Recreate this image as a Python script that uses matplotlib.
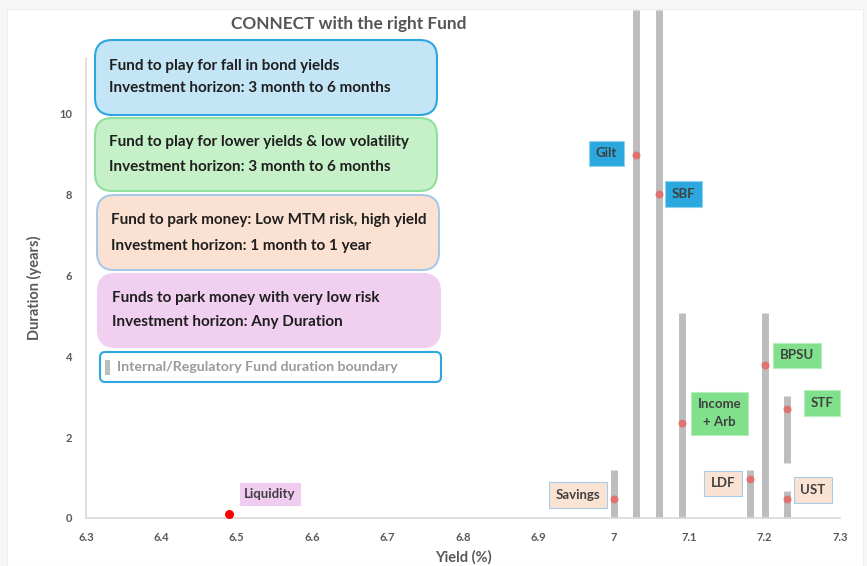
import matplotlib
matplotlib.use("Agg")
import matplotlib.pyplot as plt
from matplotlib.patches import FancyBboxPatch, Rectangle

plt.rcParams["font.family"] = ["Lato", "DejaVu Sans"]

# fund data: yield (%), duration (years), regulatory duration boundary
fund_names = ["Savings", "Gilt", "SBF", "Income\n+ Arb", "LDF", "BPSU", "STF", "UST"]
fund_yield = [7.00, 7.03, 7.06, 7.09, 7.18, 7.20, 7.23, 7.23]
fund_duration = [0.46, 8.97, 8.0, 2.34, 0.96, 3.77, 2.69, 0.46]
bound_low = [0, 0, 0, 0, 0, 0, 1.35, 0]
bound_high = [1.19, 12.55, 12.55, 5.06, 1.19, 5.06, 3.01, 0.66]
fund_group = ["park", "fall", "fall", "lower", "park", "lower", "lower", "park"]

liq_name = "Liquidity"
liq_yield = 6.49
liq_duration = 0.1

# label anchor positions (data coords)
label_x = [6.953, 6.990, 7.092, 7.140, 7.145, 7.243, 7.276, 7.264]
label_y = [0.57, 9.01, 8.0, 2.59, 0.86, 4.02, 2.84, 0.69]
liq_label_xy = (6.544, 0.59)

group_style = {
    "fall": dict(fc="#2aa8df", ec="#8fd3f0"),
    "lower": dict(fc="#80e08b", ec="#b5eebb"),
    "park": dict(fc="#fbe3d4", ec="#a9ccec"),
    "very_low": dict(fc="#f0cdf0", ec="#f0cdf0"),
}

legend_lines = [
    ("Fund to play for fall in bond yields", "Investment horizon: 3 month to 6 months"),
    ("Fund to play for lower yields & low volatility", "Investment horizon: 3 month to 6 months"),
    ("Fund to park money: Low MTM risk, high yield", "Investment horizon: 1 month to 1 year"),
    ("Funds to park money with very low risk", "Investment horizon: Any Duration"),
]
legend_fc = ["#c4e5f5", "#c5f0c8", "#fbe1d1", "#f1cff0"]
legend_ec = ["#2ea6e0", "#90e09b", "#a8c8e8", "#f1cff0"]
# box extents in pixels (x0, y0_top, x1, y1_bottom) and text line rows
legend_px = [(95, 40, 437, 115), (95, 118, 437, 191), (97, 195, 439, 270), (98, 274, 440, 347)]
legend_rows = [(66, 88), (142, 167), (220, 246), (298, 322)]

W, H = 867, 566
fig = plt.figure(figsize=(W / 100, H / 100), dpi=100, facecolor="#f7f7f7")
fig.patches.append(Rectangle((7 / W, 0), 856 / W, 1 - 9 / H, transform=fig.transFigure,
                             fc="white", ec="#eeeeee", lw=0.8, zorder=-2))

ax = fig.add_axes([86 / W, 1 - 518 / H, (840 - 86) / W, (518 - 58) / H])
ax.set_zorder(0)
ax.set_facecolor("none")
ax.set_xlim(6.3, 7.3)
ax.set_ylim(0, 11.36)
ax.set_xticks([6.3, 6.4, 6.5, 6.6, 6.7, 6.8, 6.9, 7.0, 7.1, 7.2, 7.3])
ax.set_xticklabels(["6.3", "6.4", "6.5", "6.6", "6.7", "6.8", "6.9", "7", "7.1", "7.2", "7.3"])
ax.set_yticks([0, 2, 4, 6, 8, 10])
for s in ["top", "right"]:
    ax.spines[s].set_visible(False)
for s in ["left", "bottom"]:
    ax.spines[s].set_color("#d9d9d9")
    ax.spines[s].set_linewidth(1.2)
ax.tick_params(length=0, labelsize=8, labelcolor="#595959", pad=10)
for lab in ax.get_xticklabels() + ax.get_yticklabels():
    lab.set_fontweight("bold")

ax.vlines(fund_yield, bound_low, bound_high, colors="#bdbdbd", linewidth=5, zorder=2, clip_on=False)
ax.scatter(fund_yield, fund_duration, s=22, color="#e07272", zorder=3, clip_on=False)
ax.scatter([liq_yield], [liq_duration], s=30, color="#ff0000", zorder=3, clip_on=False)

for name, lx, ly, g in zip(fund_names, label_x, label_y, fund_group):
    st = group_style[g]
    ax.text(lx, ly, name, ha="center", va="center", fontsize=9.5, fontweight="bold",
            color="#404040", linespacing=1.6, zorder=4,
            bbox=dict(boxstyle="square,pad=0.5", fc=st["fc"], ec=st["ec"], lw=0.8))
st = group_style["very_low"]
ax.text(liq_label_xy[0], liq_label_xy[1], liq_name, ha="center", va="center", fontsize=9.5,
        fontweight="bold", color="#404040", zorder=4,
        bbox=dict(boxstyle="square,pad=0.35", fc=st["fc"], ec=st["ec"], lw=0.8))

ax.set_xlabel("Yield (%)", fontsize=10.5, fontweight="bold", color="#595959", labelpad=5)
ax.set_ylabel("Duration (years)", fontsize=10.5, fontweight="bold", color="#595959", labelpad=12)

fig.text(349 / W, 1 - 24 / H, "CONNECT with the right Fund", ha="center", va="center",
         fontsize=12.4, fontweight="bold", color="#555555")

# legend boxes
for (l1, l2), fc, ec, (x0, y0, x1, y1), (r1, r2) in zip(legend_lines, legend_fc, legend_ec,
                                                          legend_px, legend_rows):
    box = FancyBboxPatch((x0 / W, 1 - y1 / H), (x1 - x0) / W, (y1 - y0) / H,
                         boxstyle="round,pad=0,rounding_size=0.02", transform=fig.transFigure,
                         fc=fc, ec=ec, lw=1.5, mutation_aspect=W / H, zorder=2)
    fig.patches.append(box)
    fig.text((x0 + 14) / W, 1 - r1 / H, l1, ha="left", va="center",
             fontsize=11, fontweight="bold", color="#1f1f1f", zorder=3)
    fig.text((x0 + 14) / W, 1 - r2 / H, l2, ha="left", va="center",
             fontsize=11, fontweight="bold", color="#1f1f1f", zorder=3)

bb = FancyBboxPatch((100 / W, 1 - 382 / H), 341 / W, 30 / H,
                    boxstyle="round,pad=0,rounding_size=0.006", transform=fig.transFigure,
                    fc="white", ec="#2ea6e0", lw=1.5, mutation_aspect=W / H, zorder=2)
fig.patches.append(bb)
fig.patches.append(Rectangle((105 / W, 1 - 375 / H), 5 / W, 15 / H, transform=fig.transFigure,
                             fc="#bdbdbd", ec="none", zorder=3))
fig.text(117 / W, 1 - 367 / H, "Internal/Regulatory Fund duration boundary", ha="left",
         va="center", fontsize=10.2, fontweight="bold", color="#9a9a9a", zorder=3)

fig.savefig("out.png", dpi=100, facecolor=fig.get_facecolor())
